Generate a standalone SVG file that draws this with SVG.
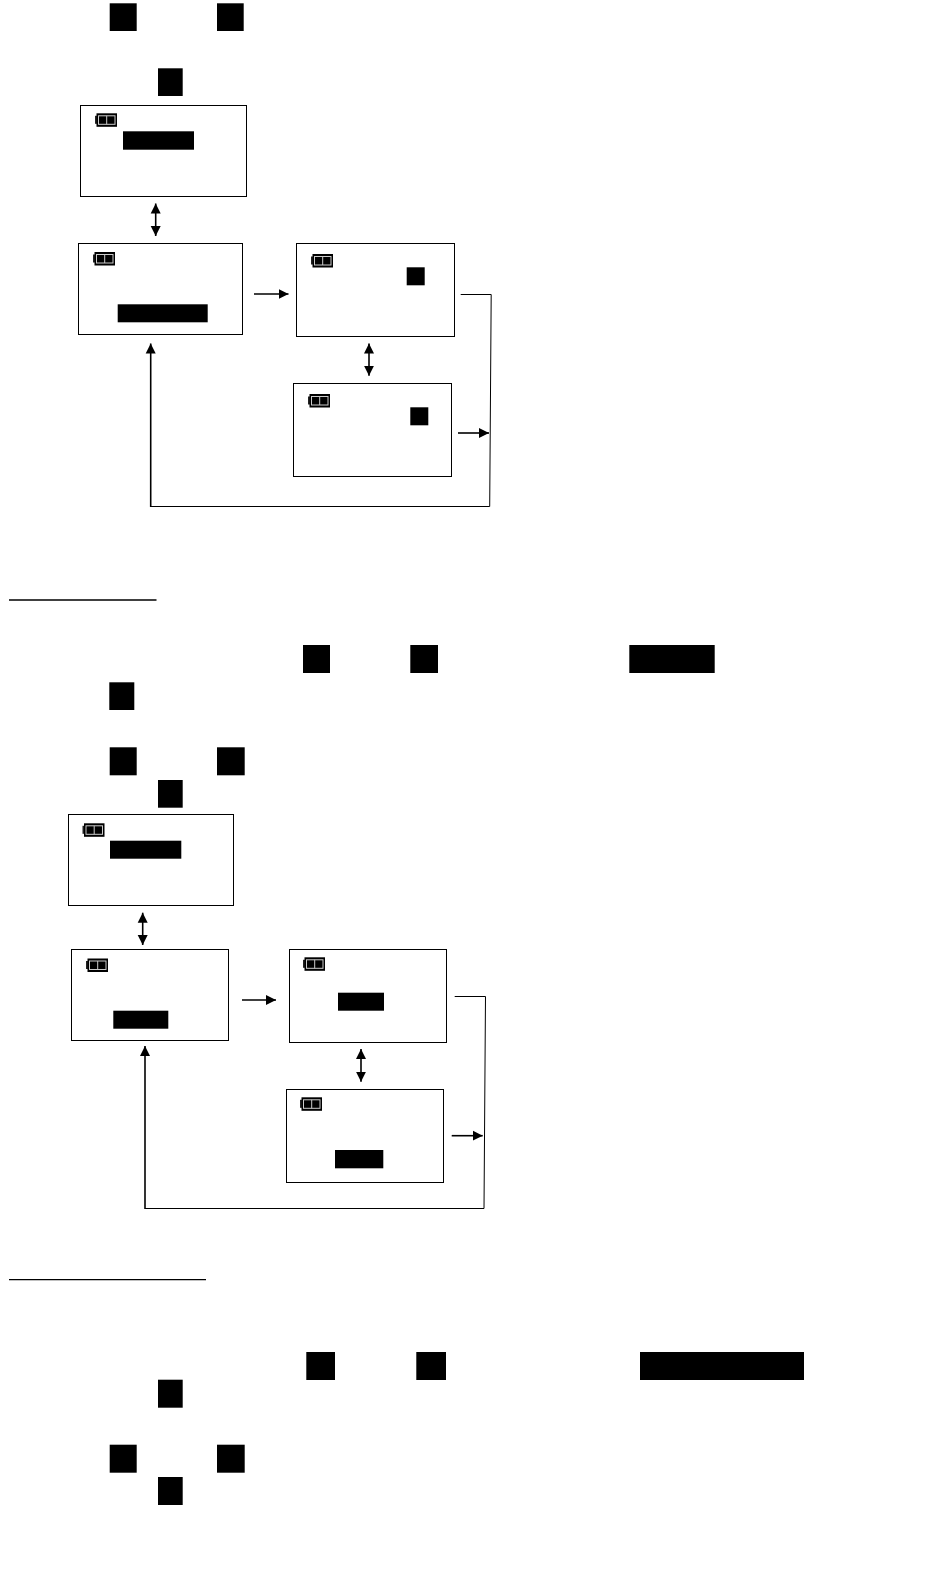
<svg xmlns="http://www.w3.org/2000/svg" width="950" height="1590" viewBox="0 0 950 1590">
<style>
.box{fill:#fff;stroke:#000;stroke-width:1}
.blk{fill:#000}
.ln{fill:none;stroke:#000;stroke-width:1}
.th{fill:none;stroke:#000;stroke-width:1.6}
</style>
<defs>
<marker id="ah" markerUnits="userSpaceOnUse" markerWidth="11" markerHeight="11" refX="10" refY="5.5" orient="auto-start-reverse"><path d="M0 0.5L10 5.5L0 10.5Z" fill="#000"/></marker>
<g id="bat">
<rect x="0" y="2.5" width="2" height="8" fill="#222"/>
<rect x="1.5" y="0" width="20.5" height="13.5" fill="#000"/>
<rect x="3.5" y="2.5" width="16.5" height="8.5" fill="none" stroke="#ccc" stroke-width="1"/>
<line x1="11.7" y1="2.5" x2="11.7" y2="11" stroke="#ccc" stroke-width="1"/>
</g>
</defs>
<rect width="950" height="1590" fill="#fff"/>
<g id="marks-top">
<rect class="blk" x="109.7" y="3.3" width="27" height="27.7"/>
<rect class="blk" x="217" y="3.3" width="26.7" height="27.7"/>
<rect class="blk" x="158" y="68.3" width="24.7" height="27.7"/>
</g>
<g id="node-1a"><rect class="box" x="80.5" y="105.5" width="166" height="91"/><use href="#bat" x="95" y="113.3"/><rect class="blk" x="123" y="131.3" width="71" height="18.4"/></g>
<g id="node-1b"><rect class="box" x="78.5" y="243.5" width="164" height="91"/><use href="#bat" x="93" y="252"/><rect class="blk" x="117.7" y="304.3" width="90" height="18"/></g>
<g id="node-1c"><rect class="box" x="296.5" y="243.5" width="158" height="93"/><use href="#bat" x="311" y="254"/><rect class="blk" x="406.7" y="267.3" width="18" height="18"/></g>
<g id="node-1d"><rect class="box" x="293.5" y="383.5" width="158" height="93"/><use href="#bat" x="308" y="394"/><rect class="blk" x="410.3" y="407.3" width="18" height="18"/></g>
<g id="connectors-1">
<line class="th" x1="155.7" y1="203.5" x2="155.7" y2="236" marker-start="url(#ah)" marker-end="url(#ah)"/>
<line class="th" x1="254" y1="294" x2="288.5" y2="294" marker-end="url(#ah)"/>
<line class="th" x1="369" y1="343.5" x2="369" y2="375.7" marker-start="url(#ah)" marker-end="url(#ah)"/>
<line class="th" x1="458" y1="433" x2="489" y2="433" marker-end="url(#ah)"/>
<polyline class="ln" points="460.7,294.5 491.2,294.5 489.7,506.5 150.7,506.5"/>
<line class="th" x1="150.7" y1="507" x2="150.7" y2="343.5" marker-end="url(#ah)"/>
</g>
<line id="rule-1" x1="9" y1="600" x2="156.5" y2="600" stroke="#000" stroke-width="1.3"/>
<g id="marks-mid">
<rect class="blk" x="303" y="645" width="27" height="28"/>
<rect class="blk" x="410.3" y="645" width="27.7" height="28"/>
<rect class="blk" x="629.3" y="645" width="85.4" height="28"/>
<rect class="blk" x="109.3" y="682.3" width="25" height="27.7"/>
<rect class="blk" x="109.7" y="747.3" width="27" height="28"/>
<rect class="blk" x="217" y="747.3" width="27.7" height="28"/>
<rect class="blk" x="158" y="780" width="24.7" height="27.7"/>
</g>
<g id="node-2a"><rect class="box" x="68.5" y="814.5" width="165" height="91"/><use href="#bat" x="82.5" y="823.3"/><rect class="blk" x="110" y="840.7" width="71.3" height="18"/></g>
<g id="node-2b"><rect class="box" x="71.5" y="949.5" width="157" height="91"/><use href="#bat" x="86" y="958.5"/><rect class="blk" x="113.3" y="1010.7" width="55" height="18"/></g>
<g id="node-2c"><rect class="box" x="289.5" y="949.5" width="157" height="93"/><use href="#bat" x="303" y="957.3"/><rect class="blk" x="338" y="992.7" width="46" height="18"/></g>
<g id="node-2d"><rect class="box" x="286.5" y="1089.5" width="157" height="93"/><use href="#bat" x="300" y="1097.3"/><rect class="blk" x="335" y="1150" width="48.3" height="18.3"/></g>
<g id="connectors-2">
<line class="th" x1="142.7" y1="912.7" x2="142.7" y2="945" marker-start="url(#ah)" marker-end="url(#ah)"/>
<line class="th" x1="242" y1="1000" x2="276" y2="1000" marker-end="url(#ah)"/>
<line class="th" x1="361" y1="1049" x2="361" y2="1081.7" marker-start="url(#ah)" marker-end="url(#ah)"/>
<line class="th" x1="451.7" y1="1135.7" x2="482.7" y2="1135.7" marker-end="url(#ah)"/>
<polyline class="ln" points="454.7,996.5 485.5,996.5 484,1208.5 145,1208.5"/>
<line class="th" x1="145" y1="1209" x2="145" y2="1046" marker-end="url(#ah)"/>
</g>
<line id="rule-2" x1="9" y1="1279.7" x2="206" y2="1279.7" stroke="#000" stroke-width="1.3"/>
<g id="marks-bottom">
<rect class="blk" x="306.3" y="1352" width="28.7" height="28"/>
<rect class="blk" x="416.3" y="1352" width="29.7" height="28"/>
<rect class="blk" x="640" y="1352" width="164" height="28"/>
<rect class="blk" x="158" y="1379.7" width="24.7" height="28"/>
<rect class="blk" x="109.7" y="1444.7" width="27" height="28"/>
<rect class="blk" x="217" y="1444.7" width="27.7" height="28"/>
<rect class="blk" x="158" y="1477" width="24.7" height="28"/>
</g>
</svg>
